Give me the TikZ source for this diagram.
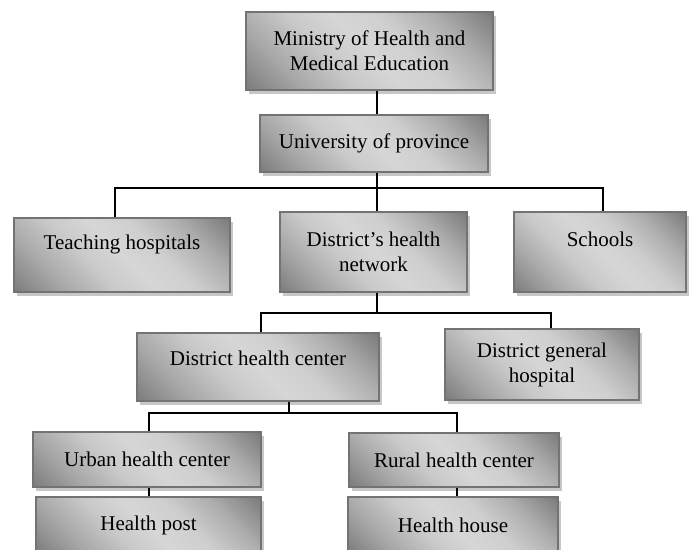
\documentclass[tikz,border=0pt]{standalone}
\usepackage{fontspec}
\setmainfont{Liberation Serif}
\usetikzlibrary{shadows}
\pgfdeclareverticalshading{boxshade}{100bp}{color(0bp)=(black!58); color(12bp)=(black!55); color(27bp)=(black!35); color(40bp)=(black!21); color(50bp)=(black!16); color(60bp)=(black!19); color(72bp)=(black!32); color(88bp)=(black!56); color(100bp)=(black!58)}
\begin{document}
\begin{tikzpicture}[x=1pt,y=-1pt,
  box/.style={draw=black!55, line width=1.4pt,
    shading=boxshade, shading angle=-45, inner sep=0pt, align=center,
    font=\fontsize{21}{25}\selectfont,
    drop shadow={shadow xshift=3pt, shadow yshift=-4pt, fill=black!22, opacity=1, draw=none}},
  link/.style={line width=1.8pt, draw=black}]
\fill[white] (0,0) rectangle (690,549);
\useasboundingbox (0,0) rectangle (690,549);

\node[box, minimum width=247pt, minimum height=78pt] (min) at (369.5,51) {Ministry of Health and\\Medical Education};
\node[box, minimum width=228pt, minimum height=57pt] (uni) at (374,143.5) {University of province};
\node[box, minimum width=216pt, minimum height=74pt] (teach) at (122,255) {Teaching hospitals\\\mbox{}};
\node[box, minimum width=187pt, minimum height=80pt] (net) at (373.5,252) {District’s health\\network};
\node[box, minimum width=172pt, minimum height=80pt] (sch) at (600,252) {Schools\\\mbox{}};
\node[box, minimum width=242pt, minimum height=68pt] (dhc) at (258,367) {District health center\\[-7pt]\mbox{}};
\node[box, minimum width=194pt, minimum height=71pt] (dgh) at (542,364.5) {District general\\hospital};
\node[box, minimum width=228pt, minimum height=55pt] (urb) at (147,459.5) {Urban health center};
\node[box, minimum width=210pt, minimum height=54pt] (rur) at (454,460) {Rural health center};
\node[box, minimum width=225pt, minimum height=56pt] (hp) at (148.5,525) {Health post};
\node[box, minimum width=210pt, minimum height=56pt] (hh) at (453,525) {Health house};

\coordinate (c1) at (377,0);
\coordinate (b1L) at (115,188);
\coordinate (b1R) at (603,188);
\coordinate (b2L) at (261,313);
\coordinate (b2R) at (551,313);
\coordinate (b3L) at (149,413);
\coordinate (b3M) at (289,413);
\coordinate (b3R) at (457,413);

\draw[link] (min.south -| c1) -- (uni.north -| c1);
\draw[link] (uni.south -| c1) -- (net.north -| c1);
\draw[link] (teach.north -| b1L) |- (b1R) -- (sch.north -| b1R);
\draw[link] (net.south -| c1) -- (c1 |- b2L);
\draw[link] (dhc.north -| b2L) |- (b2R) -- (dgh.north -| b2R);
\draw[link] (dhc.south -| b3M) -- (b3M);
\draw[link] (urb.north -| b3L) |- (b3R) -- (rur.north -| b3R);
\draw[link] (urb.south -| b3L) -- (hp.north -| b3L);
\draw[link] (rur.south -| b3R) -- (hh.north -| b3R);
\end{tikzpicture}
\end{document}
